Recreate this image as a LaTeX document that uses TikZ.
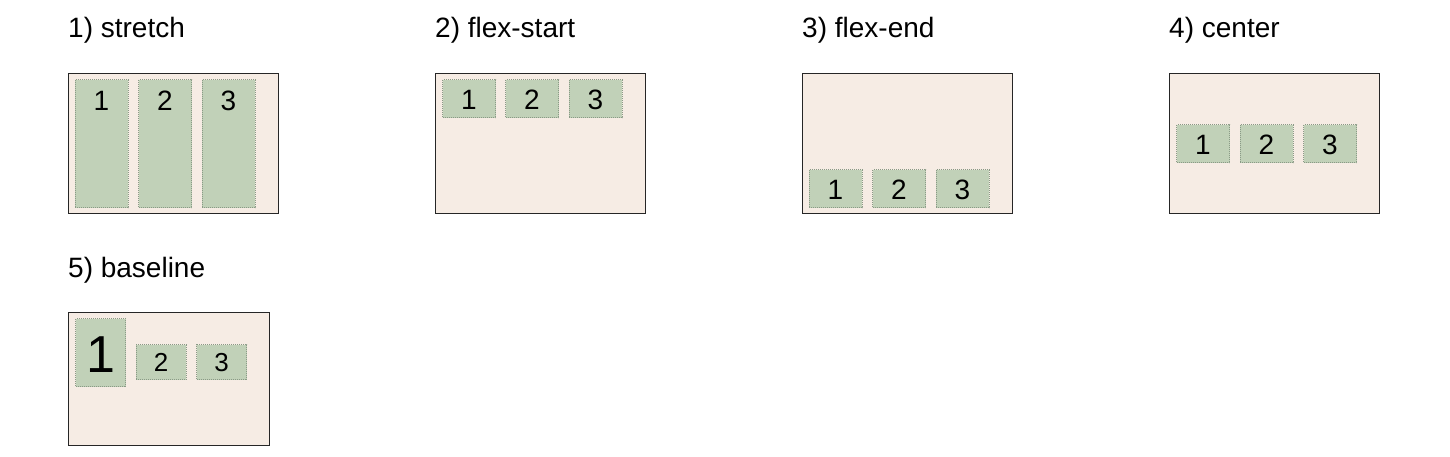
\documentclass[tikz,border=0pt]{standalone}
\usepackage{fontspec}
\setmainfont{Liberation Sans}
\definecolor{boxfill}{HTML}{F6ECE4}
\definecolor{itemfill}{HTML}{C1D1B8}
\definecolor{itemline}{HTML}{8A9A86}
\tikzstyle{box} = [draw=black!85, line width=1.2pt, fill=boxfill, anchor=north west, inner sep=0pt]
\tikzstyle{item} = [draw=itemline, densely dotted, line width=1pt, fill=itemfill, anchor=north west, inner sep=0pt, minimum width=53pt, text height=30pt, text depth=8pt, font=\fontsize{28}{30}\selectfont]
\tikzstyle{title} = [anchor=base west, inner sep=0pt, font=\fontsize{28}{30}\selectfont]

\begin{document}
\begin{tikzpicture}[x=1pt, y=-1pt]
                \useasboundingbox (0, 0) rectangle (1450, 456);
                % 1) stretch
                \node [title] (t1) at (68, 37) {1) stretch};
                \node [box, minimum width=210pt, minimum height=140pt] (b1) at (68, 73) {};
                \node [item, text height=31pt, text depth=97pt] (s1) at (74.5, 79) {1};
                \node [item, text height=31pt, text depth=97pt] (s2) at (138, 79) {2};
                \node [item, text height=31pt, text depth=97pt] (s3) at (201.5, 79) {3};
                % 2) flex-start
                \node [title] (t2) at (435, 37) {2) flex-start};
                \node [box, minimum width=210pt, minimum height=140pt] (b2) at (435, 73) {};
                \node [item] (fs1) at (442, 79) {1};
                \node [item] (fs2) at (505, 79) {2};
                \node [item] (fs3) at (568.5, 79) {3};
                % 3) flex-end
                \node [title] (t3) at (802, 37) {3) flex-end};
                \node [box, minimum width=210pt, minimum height=140pt] (b3) at (802, 73) {};
                \node [item] (fe1) at (808.5, 169) {1};
                \node [item] (fe2) at (872, 169) {2};
                \node [item] (fe3) at (935.5, 169) {3};
                % 4) center
                \node [title] (t4) at (1169, 37) {4) center};
                \node [box, minimum width=210pt, minimum height=140pt] (b4) at (1169, 73) {};
                \node [item] (c1) at (1176, 124) {1};
                \node [item] (c2) at (1239.5, 124) {2};
                \node [item] (c3) at (1303, 124) {3};
                % 5) baseline
                \node [title] (t5) at (68, 277) {5) baseline};
                \node [box, minimum width=201pt, minimum height=133pt] (b5) at (68, 312) {};
                \node [item, minimum width=50pt, text height=54pt, text depth=14pt, font=\fontsize{52}{54}\selectfont] (bl1) at (75, 318) {1};
                \node [item, minimum width=50pt, text height=27pt, text depth=8pt, font=\fontsize{26}{28}\selectfont] (bl2) at (135.5, 344) {2};
                \node [item, minimum width=50pt, text height=27pt, text depth=8pt, font=\fontsize{26}{28}\selectfont] (bl3) at (196, 344) {3};
            \end{tikzpicture}
\end{document}
